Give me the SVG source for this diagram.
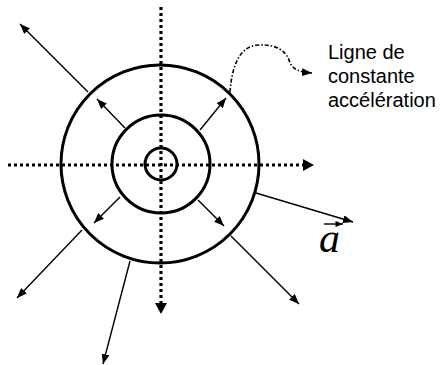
<svg xmlns="http://www.w3.org/2000/svg" width="440" height="365" viewBox="0 0 440 365">
<style>
.circ{fill:none;stroke:#000;stroke-width:3}
.axis{fill:none;stroke:#000;stroke-width:3.2;stroke-dasharray:3 3}
.arr{fill:none;stroke:#000;stroke-width:1.4}
.curve{fill:none;stroke:#000;stroke-width:1.6;stroke-dasharray:4 2 1.5 2}
.lbl{font-family:"Liberation Sans",Arial,sans-serif;font-size:20px;fill:#000}
.vec{font-family:"Liberation Serif","Times New Roman",serif;font-style:italic;font-size:42px;fill:#000}
</style>
<defs>
<marker id="ah" viewBox="0 0 10 8" refX="10" refY="4" markerWidth="10" markerHeight="8" markerUnits="userSpaceOnUse" orient="auto">
<path d="M0,0 L10,4 L0,8 Z" fill="#000"/>
</marker>
<marker id="ahs" viewBox="0 0 10 8" refX="10" refY="4" markerWidth="8" markerHeight="6" markerUnits="userSpaceOnUse" orient="auto">
<path d="M0,0 L10,4 L0,8 Z" fill="#000"/>
</marker>
</defs>
<g id="circles">
<circle id="outer" class="circ" cx="160" cy="164" r="99"/>
<circle id="middle" class="circ" cx="161" cy="164" r="49"/>
<circle id="inner" class="circ" cx="161" cy="164" r="16"/>
</g>
<g id="connectors">
<line class="axis" x1="161" y1="7" x2="161" y2="305"/>
<path d="M155,303 L161,314 L167,303 Z" fill="#000"/>
<line class="axis" x1="8" y1="165" x2="305" y2="165"/>
<path d="M303,159 L314,165 L303,171 Z" fill="#000"/>
<line class="arr" x1="88" y1="92" x2="20" y2="24" marker-end="url(#ah)"/>
<line class="arr" x1="125" y1="128" x2="97" y2="99" marker-end="url(#ah)"/>
<line class="arr" x1="200" y1="130" x2="226" y2="98" marker-end="url(#ah)"/>
<line class="arr" x1="120" y1="197" x2="94" y2="223" marker-end="url(#ah)"/>
<line class="arr" x1="198" y1="200" x2="224" y2="226" marker-end="url(#ah)"/>
<line class="arr" x1="82" y1="230" x2="17" y2="298" marker-end="url(#ah)"/>
<line class="arr" x1="130" y1="261" x2="103" y2="364" marker-end="url(#ah)"/>
<line class="arr" x1="256" y1="193" x2="353" y2="222" marker-end="url(#ah)"/>
<line class="arr" x1="231" y1="236" x2="299" y2="304" marker-end="url(#ah)"/>
<path class="curve" d="M230,92 C232,65 240,46 258,45 C278,44 286,52 289,60 C292,70 300,72 312,73" marker-end="url(#ah)"/>
</g>
<g id="label">
<text class="lbl" x="328" y="59">Ligne de</text>
<text class="lbl" x="328" y="83">constante</text>
<text class="lbl" x="328" y="107">accélération</text>
</g>
<g id="vector-a">
<text class="vec" x="319" y="252">a</text>
<line class="arr" x1="324" y1="224" x2="343" y2="224" stroke-width="1" marker-end="url(#ahs)"/>
</g>
</svg>
